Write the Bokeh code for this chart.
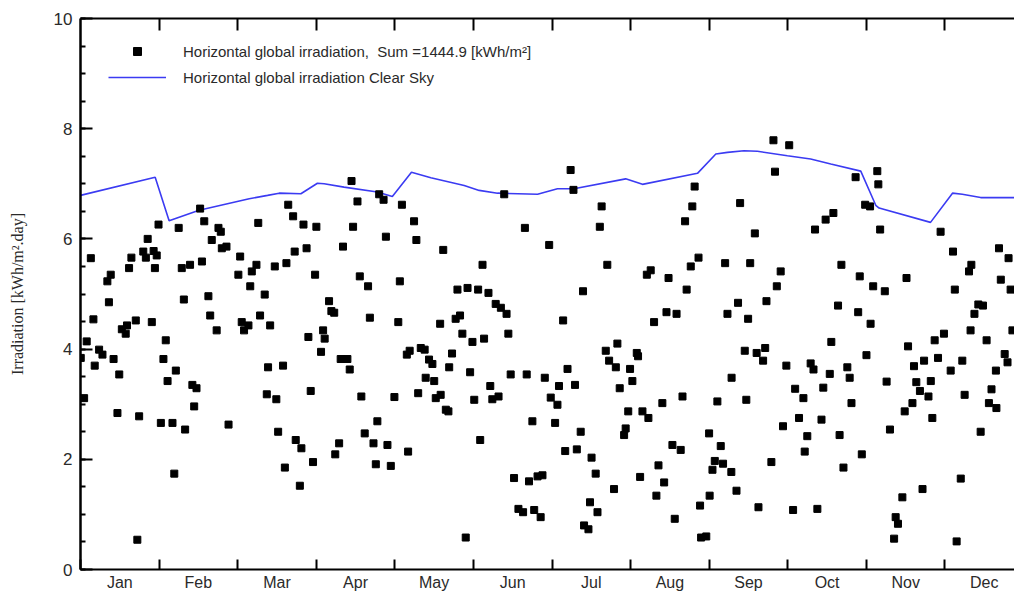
from bokeh.plotting import figure
from bokeh.models import (Legend, LegendItem, LinearAxis, FixedTicker,
                          SingleIntervalTicker, Range1d, ColumnDataSource)
from bokeh.embed import file_html
from bokeh.resources import INLINE

# ---------------- data ----------------
months = ["Jan", "Feb", "Mar", "Apr", "May", "Jun",
          "Jul", "Aug", "Sep", "Oct", "Nov", "Dec"]

# daily horizontal global irradiation [kWh/m2.day] (day of year, value)
day = [0.1, 1.4, 2.4, 4, 5, 5.5, 7.2, 8.5, 10.4, 11, 11.7, 12.8, 14.3, 15, 16, 17.5, 18, 18.8,
       19.7, 21.4, 22, 22.7, 24.3, 25.3, 26, 27.6, 28.3, 28.8, 29.5, 30.2, 31.1, 32.1, 33, 33.7,
       35.6, 36.3, 36.9, 38, 39.2, 40, 40.5, 42.4, 43.3, 44, 44.9, 46.3, 47, 47.9, 49.5, 50.2,
       50.8, 52.7, 53.4, 54.3, 54.7, 56.5, 57.3, 61.1, 61.8, 62.4, 63.3, 65, 65.7, 66.3, 68.1,
       68.8, 69.5, 71.3, 72.1, 72.6, 73.4, 75.2, 75.8, 76.5, 78.4, 79.1, 79.7, 80.4, 82.3, 82.9,
       83.3, 84.9, 85.5, 86.3, 87.5, 88.2, 89.1, 90, 90.8, 91.3, 93.1, 93.9, 94.5, 96.2, 97.1,
       98.2, 98.6, 100.1, 100.7, 101.6, 103.3, 104.2, 104.9, 105.5, 107.2, 108.1, 108.7, 110,
       111.3, 112, 113.4, 114.3, 114.9, 115.6, 117.3, 118.2, 118.8, 120.1, 121.5,
       123, 123.6, 124.4, 126.3, 126.8, 127.4, 129.1, 130, 130.7, 131.7, 133.2, 133.6, 134.9,
       136.2, 136.9, 137.5, 139.2, 139.4, 140.4, 141.4, 142.4, 142.7, 143.8, 145.2, 145.9, 146.9,
       147.8, 149.1, 149.8, 150.8, 151.7, 152.4, 153.9, 154.7, 155.6, 156.2, 157.9, 158.6, 159.4,
       160.7, 161.8, 162.7, 164, 164.9, 165.6, 166.5, 167.8, 169.5, 171.3, 172, 172.7, 173.6,
       174.9, 175.6, 176.9, 178.1, 178.8, 179.7, 181.4, 182, 183.7, 184.6, 185.2, 186.8, 187.6,
       188.5, 189.7, 190.8, 191.4, 192.1, 193.6, 194.5, 194.9, 196.6, 197.2, 197.8, 199.4, 200.1,
       201, 201.7, 203.3, 203.9, 204.6, 206.5, 207.2, 207.8, 208.7, 210.4, 211, 212, 212.7, 213.6,
       215.3, 215.8, 216.6, 217.5, 219.2, 219.8, 220.7, 222, 222.9, 223.7, 225.2, 225.9, 226.8,
       227.6, 229.1, 230, 230.7, 232.3, 233, 234, 234.6, 236.2, 236.8, 237.7, 239.2, 239.8, 240.2,
       242.2, 243.3, 243.5, 244.6, 245.5, 246.5, 247.8, 248.7, 249.5, 250.4, 251.9, 252, 253.9,
       254.5, 255.3, 257.1, 257.7, 258.4, 259.2, 261, 261.7, 262.4, 264.2, 265, 265.5, 267.4,
       268.2, 268.8, 269.5, 271, 271.9, 273.2, 274.3, 275.8, 276.6, 278.1, 279.8, 280.3, 281.3,
       282.6, 283.7, 284.3, 285.2, 286.8, 287.5, 288.4, 290, 290.6, 291.4, 293.2, 293.8, 294.5,
       295.3, 296.8, 297.7, 298.4, 300, 301, 301.6, 302.4, 303.7, 304.2, 305.6, 305.8, 306.8,
       308.4, 308.8, 309.5, 311.3, 312, 313.3, 314.9, 315.5, 316.4, 318.1, 319, 319.7, 320.3, 322,
       322.6, 323.5, 324.9, 325.9, 326.5, 328.2, 329.1, 329.7, 330.6, 331.9, 332.9, 334.2, 336.8,
       337.7, 338.4, 339.1, 340.7, 341.3, 342.2, 343.9, 344.5, 344.8, 346, 347.5, 348.4, 349.3,
       350.7, 351.6, 352.6, 354.3, 354.5, 355.5, 356.2, 357.7, 358.8, 359.2, 360, 360.7]
irradiation = [3.84, 3.11, 4.14, 5.65, 4.54, 3.7, 3.99, 3.9, 5.23, 4.85, 5.35, 3.82, 2.84, 3.54, 4.36,
               4.28, 4.43, 5.47, 5.66, 4.52, 0.54, 2.78, 5.77, 5.66, 6.0, 4.49, 5.78, 5.47, 5.7, 6.26,
               2.66, 3.82, 4.16, 3.42, 2.66, 1.74, 3.61, 6.2, 5.47, 4.9, 2.54, 5.53, 3.35, 2.96, 3.29,
               6.55, 5.59, 6.32, 4.96, 4.61, 5.98, 4.34, 6.2, 6.13, 5.83, 5.86, 2.63, 5.35, 5.68, 4.49,
               4.34, 4.43, 5.14, 5.41, 5.53, 6.29, 4.61, 4.99, 3.18, 3.67, 4.43, 5.5, 3.09, 2.5, 3.7,
               1.85, 5.56, 6.62, 6.41, 5.77, 2.35, 1.52, 2.2, 6.26, 5.83, 4.22, 3.24, 1.95, 5.35, 6.22,
               3.95, 4.34, 4.19, 4.87, 4.69, 4.66, 2.09, 2.29, 3.82, 5.86, 3.82, 3.63, 7.05, 6.22, 6.68,
               5.32, 3.14, 2.47, 5.14, 4.57, 2.29, 1.91, 2.69, 6.81, 6.71, 6.04, 2.26, 1.88, 3.13,
               4.49, 5.23, 6.62, 3.9, 2.14, 3.97, 6.32, 5.98, 3.2, 4.02, 3.99, 3.48, 3.81, 3.73, 3.42,
               3.11, 4.46, 3.17, 5.8, 2.9, 2.87, 3.67, 3.92, 4.55, 5.08, 4.61, 4.28, 0.58, 5.11, 3.58,
               4.13, 3.08, 5.08, 2.35, 5.53, 4.19, 5.02, 3.33, 3.09, 4.82, 3.14, 4.75, 6.81, 4.64, 4.28,
               3.54, 1.66, 1.1, 1.04, 6.2, 3.54, 1.6, 2.69, 1.08, 1.69, 0.95, 1.71, 3.48, 5.89, 3.12,
               2.66, 2.99, 3.33, 4.52, 2.15, 3.64, 7.25, 6.89, 3.35, 2.18, 2.5, 5.05, 0.8, 0.73, 1.22,
               2.03, 1.74, 1.04, 6.22, 6.59, 3.97, 5.53, 3.79, 1.46, 3.67, 4.1, 3.29, 2.44, 2.56, 2.87,
               3.64, 3.42, 3.93, 3.87, 1.68, 2.87, 5.35, 2.75, 5.43, 4.49, 1.34, 1.89, 3.02, 1.58, 4.67,
               5.29, 2.26, 0.92, 4.64, 2.17, 3.14, 6.32, 5.08, 5.5, 6.59, 6.95, 5.66, 1.16, 0.58,
               0.6, 2.47, 1.34, 1.81, 1.97, 3.05, 2.24, 1.92, 5.56, 4.64, 1.77, 3.48, 1.43,
               4.84, 6.65, 3.97, 3.08, 4.55, 5.56, 6.1, 3.93, 1.13, 3.79, 4.02, 4.87, 1.95,
               7.79, 7.22, 5.14, 5.41, 2.6, 3.7, 7.7, 1.08, 3.28, 2.75, 3.11, 2.14, 2.42,
               3.74, 3.63, 6.17, 1.1, 2.72, 3.3, 6.35, 3.55, 4.13, 6.47, 4.79, 2.44, 5.53,
               1.85, 3.67, 3.48, 3.02, 7.12, 4.67, 5.32, 2.09, 6.62, 3.89, 6.59, 4.46, 5.14,
               7.23, 6.99, 6.17, 5.05, 3.41, 2.54, 0.56, 0.95, 0.83, 1.31, 2.87, 5.29, 4.05, 3.02,
               3.69, 3.4, 3.24, 1.46, 3.79, 3.14, 3.42, 2.75, 4.16, 3.84, 6.13, 4.28, 3.61,
               5.77, 5.08, 0.51, 1.65, 3.79, 3.17, 5.41, 4.34, 5.53, 4.64, 4.81, 2.5, 4.79,
               4.16, 3.02, 3.27, 3.61, 2.93, 5.83, 5.26, 3.91, 3.76, 5.65, 5.08, 4.34]

# clear sky envelope
clear_day = [0, 28.9, 34.3, 45.9, 65.3, 72.4, 76.9, 85.3, 91.7, 94.3, 102, 114.9, 120.7, 128.1,
             135.6, 148.5, 154.3, 161.4, 176.9, 184.6, 191, 211, 217.5, 238.8, 245.9, 250.4,
             256.8, 262, 273.6, 282.6, 290.4, 302, 307.8, 309.1, 329, 337.5, 341.3, 348.4, 362]
clear_sky = [6.79, 7.12, 6.33, 6.52, 6.73, 6.79, 6.83, 6.82, 7.01, 7.0, 6.94, 6.85, 6.77, 7.21,
             7.11, 6.97, 6.88, 6.83, 6.81, 6.91, 6.91, 7.09, 6.99, 7.19, 7.54, 7.57,
             7.6, 7.59, 7.51, 7.45, 7.36, 7.23, 6.61, 6.56, 6.3, 6.83, 6.81, 6.75, 6.75]

# ---------------- figure ----------------
FONT = "Liberation Sans"
TXT = "#2a2a2a"

p = figure(width=1014, height=597, output_backend="svg", toolbar_location=None,
           x_range=Range1d(0, 361.5), y_range=Range1d(0, 10),
           x_axis_location=None, y_axis_location=None,
           min_border_left=80, min_border_right=0, min_border_top=18, min_border_bottom=28)
p.grid.visible = False
p.outline_line_color = None
p.background_fill_color = "white"
p.border_fill_color = "white"

month_len = 365 / 12
bounds = [i * month_len for i in range(13)]
centers = [(i + 0.5) * month_len for i in range(12)]

# bottom axis: month labels at centres, ticks at month boundaries
xb = LinearAxis(ticker=FixedTicker(ticks=centers, minor_ticks=bounds))
xb.major_label_overrides = {c: m for c, m in zip(centers, months)}
xb.major_tick_in = 0
xb.major_tick_out = 0
xb.minor_tick_in = 10
xb.minor_tick_out = 0
xb.minor_tick_line_color = "black"
xb.minor_tick_line_width = 2
xb.axis_line_width = 2
xb.axis_line_color = "black"
xb.major_label_standoff = 4
xb.major_label_text_font = FONT
xb.major_label_text_font_size = "16px"
xb.major_label_text_color = TXT
p.add_layout(xb, "below")

# top axis: ticks only
xt = LinearAxis(ticker=FixedTicker(ticks=bounds[1:-1]))
xt.major_tick_in = 12
xt.major_tick_out = 0
xt.major_tick_line_width = 2
xt.minor_tick_line_color = None
xt.axis_line_width = 2
xt.major_label_text_font_size = "0px"
xt.major_label_standoff = 0
xt.major_label_text_color = None
p.add_layout(xt, "above")

# left axis
yl = LinearAxis(ticker=SingleIntervalTicker(interval=2, num_minor_ticks=4))
yl.major_tick_in = 12
yl.major_tick_out = 0
yl.minor_tick_in = 5
yl.minor_tick_out = 0
yl.major_tick_line_width = 2
yl.minor_tick_line_width = 2
yl.axis_line_width = 2.5
yl.major_label_standoff = 8
yl.major_label_text_font = FONT
yl.major_label_text_font_size = "17px"
yl.major_label_text_color = TXT
yl.axis_label = "Irradiation [kWh/m².day]"
yl.axis_label_text_font = "Liberation Serif"
yl.axis_label_text_font_style = "normal"
yl.axis_label_text_font_size = "16px"
yl.axis_label_text_color = TXT
yl.axis_label_standoff = 25
p.add_layout(yl, "left")

src = ColumnDataSource(dict(day=day, irr=irradiation))
cs = ColumnDataSource(dict(day=clear_day, val=clear_sky))

ln = p.line("day", "val", source=cs, line_color="#3b3bf2", line_width=1.6)
sc = p.scatter("day", "irr", source=src, marker="square", size=7,
               fill_color="black", line_color="black")

legend = Legend(items=[
    LegendItem(label="Horizontal global irradiation,  Sum =1444.9 [kWh/m²]", renderers=[sc]),
    LegendItem(label="Horizontal global irradiation Clear Sky", renderers=[ln]),
], location=(28, 482))
legend.border_line_color = None
legend.background_fill_alpha = 0
legend.padding = 0
legend.margin = 0
legend.spacing = 6
legend.glyph_width = 58
legend.glyph_height = 20
legend.label_height = 20
legend.label_standoff = 17
legend.label_text_font = FONT
legend.label_text_font_size = "15px"
legend.label_text_color = TXT
p.add_layout(legend, "center")

open("out.html", "w").write(file_html(p, INLINE))
